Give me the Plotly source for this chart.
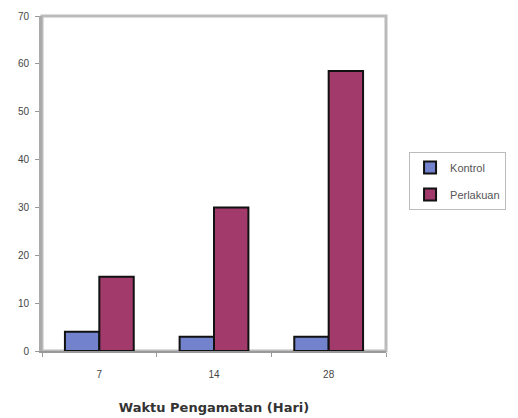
import plotly.graph_objects as go

categories = ["7", "14", "28"]
kontrol = [4, 3, 3]
perlakuan = [15.5, 30, 58.5]
y_ticks = [0, 10, 20, 30, 40, 50, 60, 70]

fig = go.Figure()
fig.add_trace(go.Bar(x=categories, y=kontrol, name="Kontrol", legendgroup="a",
                     marker=dict(color="#7282CC", line=dict(color="#111", width=2))))
fig.add_trace(go.Bar(x=categories, y=perlakuan, name="Perlakuan", legendgroup="b",
                     marker=dict(color="#A23A6C", line=dict(color="#111", width=2))))

fig.update_layout(
    width=518, height=418,
    margin=dict(l=42, r=132, t=16, b=67),
    paper_bgcolor="white", plot_bgcolor="white",
    barmode="group", bargap=0.4, bargroupgap=0,
    font=dict(family="Liberation Sans, Arial", size=10, color="#444"),
    showlegend=True,
    legend=dict(x=1.067, y=0.594, xanchor="left", yanchor="top",
                bordercolor="#bbb", borderwidth=1, bgcolor="white",
                font=dict(size=11, color="#555", family="Liberation Sans"),
                itemwidth=30, tracegroupgap=8),
    xaxis=dict(type="category", showline=True, linecolor="#999", linewidth=2,
               mirror=False, ticks="outside", tickson="boundaries", ticklen=4,
               tickcolor="#999", showgrid=False, ticklabelstandoff=13,
               automargin=False,
               title=dict(text="<b>Waktu Pengamatan (Hari)</b>",
                          font=dict(size=13, color="#333", family="DejaVu Sans"),
                          standoff=24)),
    yaxis=dict(range=[0, 70], tickvals=y_ticks, showline=True, linecolor="#aaa",
               linewidth=3, ticks="outside", ticklen=4, tickcolor="#999",
               showgrid=False, zeroline=False, ticklabelstandoff=4,
               automargin=False),
)
fig.add_shape(type="rect", xref="paper", yref="paper", x0=0, y0=0, x1=1, y1=1,
              line=dict(color="#bbb", width=3), layer="below")

fig.write_html("out.html")
